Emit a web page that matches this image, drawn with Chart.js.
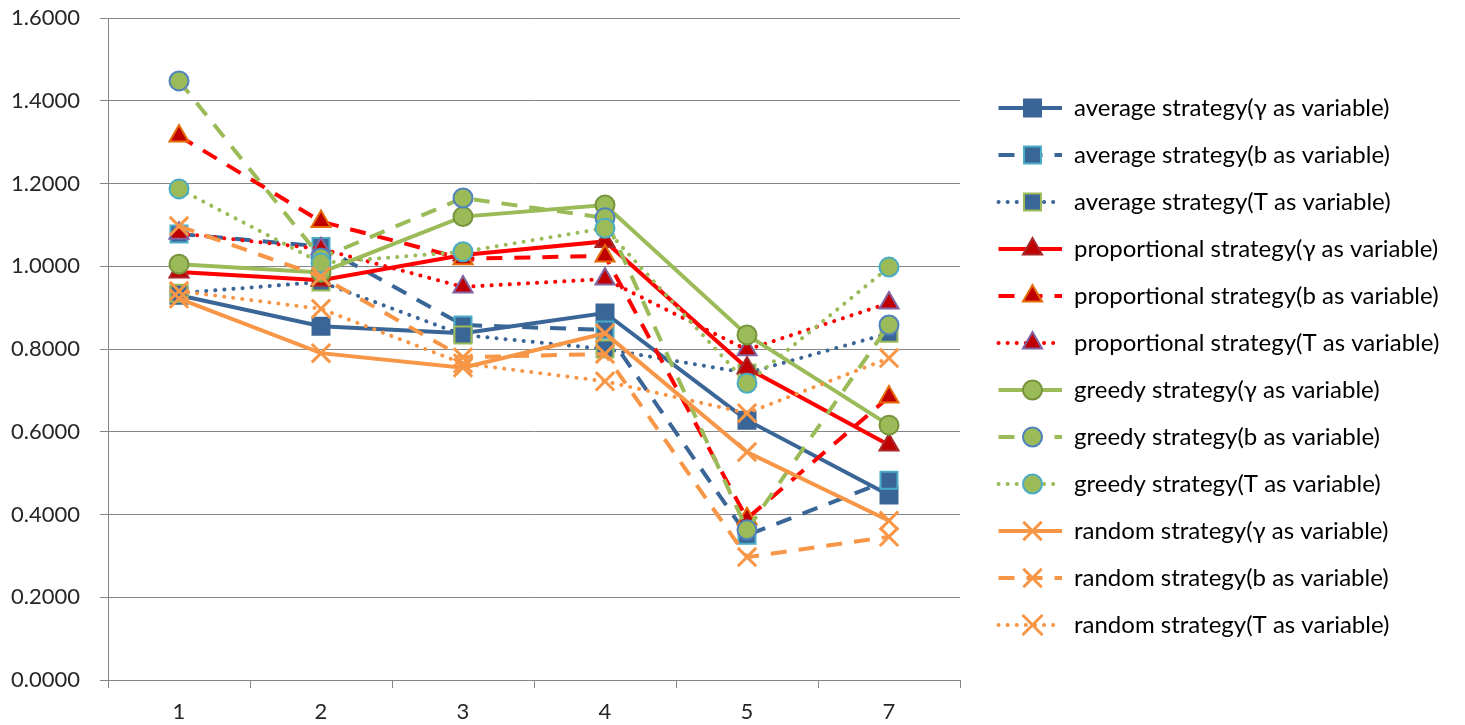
<!DOCTYPE html>
<html>
<head>
<meta charset="utf-8">
<script src="https://cdn.jsdelivr.net/npm/chart.js@4.4.0/dist/chart.umd.min.js"></script>
<style>
  html, body { margin: 0; padding: 0; background: #fff; overflow: hidden; }
  canvas { display: block; }
</style>
</head>
<body>
<canvas id="chart" width="1465" height="725"></canvas>
<script>
// x categories and y tick range
const categories = ['1', '2', '3', '4', '5', '7'];
const yMin = 0, yMax = 1.6, yStep = 0.2;

// series values
const avgGamma    = [0.930, 0.855, 0.838, 0.887, 0.628, 0.447];
const avgB        = [1.078, 1.048, 0.858, 0.846, 0.350, 0.483];
const avgT        = [0.935, 0.962, 0.834, 0.800, 0.742, 0.838];
const propGamma   = [0.986, 0.966, 1.027, 1.060, 0.754, 0.568];
const propB       = [1.315, 1.108, 1.018, 1.025, 0.390, 0.684];
const propT       = [1.080, 1.042, 0.950, 0.969, 0.798, 0.911];
const greedyGamma = [1.005, 0.985, 1.120, 1.148, 0.834, 0.616];
const greedyB     = [1.448, 1.020, 1.165, 1.117, 0.363, 0.858];
const greedyT     = [1.187, 1.008, 1.035, 1.092, 0.717, 0.998];
const randGamma   = [0.922, 0.790, 0.755, 0.838, 0.551, 0.385];
const randB       = [1.097, 0.975, 0.780, 0.788, 0.297, 0.346];
const randT       = [0.940, 0.897, 0.765, 0.722, 0.645, 0.778];

const seriesNames = [
  'average strategy(γ as variable)',
  'average strategy(b as variable)',
  'average strategy(T as variable)',
  'proportional strategy(γ as variable)',
  'proportional strategy(b as variable)',
  'proportional strategy(T as variable)',
  'greedy strategy(γ as variable)',
  'greedy strategy(b as variable)',
  'greedy strategy(T as variable)',
  'random strategy(γ as variable)',
  'random strategy(b as variable)',
  'random strategy(T as variable)'
];
const seriesValues = [avgGamma, avgB, avgT, propGamma, propB, propT,
                      greedyGamma, greedyB, greedyT, randGamma, randB, randT];

const blue = '#3A6597', teal = '#4BACC6', green = '#9BBB59', red = '#FF0000', orange = '#F79646';
const DASH = [16, 12];
const DOT = [0.1, 9];

const looks = [
  { line: blue,   dash: [],   shape: 'rect',     r: 12,  fill: blue,      edge: blue },
  { line: blue,   dash: DASH, shape: 'rect',     r: 12,  fill: blue,      edge: teal },
  { line: blue,   dash: DOT,  shape: 'rect',     r: 12,  fill: blue,      edge: green },
  { line: red,    dash: [],   shape: 'triangle', r: 11,  fill: '#C00000', edge: '#A8282A' },
  { line: red,    dash: DASH, shape: 'triangle', r: 11,  fill: '#C00000', edge: '#E46C0A' },
  { line: red,    dash: DOT,  shape: 'triangle', r: 11,  fill: '#C00000', edge: '#8064A2' },
  { line: green,  dash: [],   shape: 'circle',   r: 9.5, fill: green,     edge: '#77933C' },
  { line: green,  dash: DASH, shape: 'circle',   r: 9.5, fill: green,     edge: '#4F81BD' },
  { line: green,  dash: DOT,  shape: 'circle',   r: 9.5, fill: green,     edge: teal },
  { line: orange, dash: [],   shape: 'crossRot', r: 13,  fill: orange,    edge: orange },
  { line: orange, dash: DASH, shape: 'crossRot', r: 13,  fill: orange,    edge: orange },
  { line: orange, dash: DOT,  shape: 'crossRot', r: 13,  fill: orange,    edge: orange }
];

const FONT = 'Lato';
const tickSize = 22;
const legendSize = 24;
const textColor = '#262626';
const gridColor = '#868686';

// legend swatch: a short line with the marker in the middle
const swatchW = 79, swatchH = 26;
function makeSwatch(lk) {
  const c = document.createElement('canvas');
  c.width = swatchW; c.height = swatchH;
  const ctx = c.getContext('2d');
  ctx.strokeStyle = lk.line;
  ctx.lineWidth = 4;
  ctx.lineCap = lk.dash === DOT ? 'round' : 'butt';
  ctx.setLineDash(lk.dash);
  ctx.beginPath();
  ctx.moveTo(15.5, swatchH / 2);
  ctx.lineTo(swatchW, swatchH / 2);
  ctx.stroke();
  ctx.setLineDash([]);
  ctx.fillStyle = lk.fill;
  ctx.strokeStyle = lk.edge;
  ctx.lineWidth = lk.shape === 'crossRot' ? 3 : 2;
  Chart.helpers.drawPoint(ctx, { pointStyle: lk.shape, radius: lk.r, rotation: 0, borderWidth: ctx.lineWidth }, 49.5, swatchH / 2);
  return c;
}
const swatches = looks.map(makeSwatch);

// measure text so the plot area lands where the reference has it
const mctx = document.createElement('canvas').getContext('2d');
mctx.font = legendSize + 'px ' + FONT;
const maxText = Math.max(...seriesNames.map(s => mctx.measureText(s).width));
const legendPad = 23;
const legendWidth = legendPad + swatchW + legendSize / 2 + maxText + 10;
const plotTop = 18, plotRight = 960;
const yTickPad = 20, tickLen = 8;
mctx.font = tickSize + 'px ' + FONT;
const yLabelW = mctx.measureText('1.6000').width;

const datasets = seriesNames.map((name, i) => {
  const lk = looks[i];
  return {
    label: name,
    data: seriesValues[i],
    order: seriesNames.length - i,
    borderColor: lk.line,
    borderWidth: 4,
    borderDash: lk.dash,
    borderCapStyle: lk.dash === DOT ? 'round' : 'butt',
    tension: 0,
    fill: false,
    pointStyle: lk.shape,
    pointRadius: lk.r,
    pointHoverRadius: lk.r,
    pointBackgroundColor: lk.fill,
    pointBorderColor: lk.edge,
    pointBorderWidth: lk.shape === 'crossRot' ? 3 : 2
  };
});

new Chart(document.getElementById('chart'), {
  type: 'line',
  data: { labels: categories, datasets: datasets },
  options: {
    responsive: false,
    animation: false,
    events: [],
    devicePixelRatio: 1,
    layout: {
      autoPadding: false,
      padding: {
        top: 8,
        bottom: 0,
        left: 108 - (tickLen + 2 * yTickPad + yLabelW),
        right: 1465 - plotRight - legendWidth
      }
    },
    scales: {
      x: {
        offset: true,
        afterFit: s => { s.height = 45; },
        grid: {
          offset: true,
          drawOnChartArea: false,
          drawTicks: true,
          tickLength: tickLen,
          color: gridColor
        },
        border: { color: gridColor, width: 1 },
        ticks: {
          padding: 11,
          color: textColor,
          font: { family: FONT, size: tickSize }
        }
      },
      y: {
        min: yMin,
        max: yMax,
        afterFit: s => { s.paddingTop = plotTop; s.paddingBottom = 0; },
        ticks: {
          stepSize: yStep,
          padding: yTickPad,
          color: textColor,
          font: { family: FONT, size: tickSize },
          callback: v => Number(v).toFixed(4)
        },
        grid: { color: gridColor, lineWidth: 1, tickLength: tickLen },
        border: { color: gridColor, width: 1 }
      }
    },
    plugins: {
      tooltip: { enabled: false },
      legend: {
        position: 'right',
        maxWidth: 700,
        labels: {
          usePointStyle: true,
          pointStyleWidth: swatchW,
          boxHeight: legendSize,
          padding: legendPad,
          color: textColor,
          font: { family: FONT, size: legendSize },
          generateLabels: chart => chart.data.datasets.map((ds, i) => ({
            text: ds.label,
            pointStyle: swatches[i],
            fillStyle: 'rgba(0,0,0,0)',
            strokeStyle: 'rgba(0,0,0,0)',
            lineWidth: 0,
            hidden: false,
            datasetIndex: i
          }))
        }
      }
    }
  }
});
</script>
</body>
</html>
